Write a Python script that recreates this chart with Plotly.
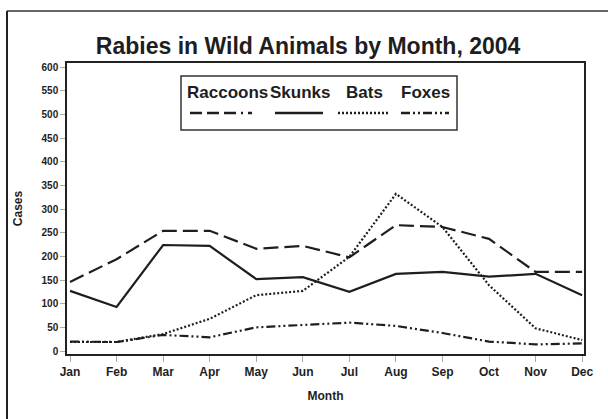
import plotly.graph_objects as go

months = ["Jan", "Feb", "Mar", "Apr", "May", "Jun", "Jul", "Aug", "Sep", "Oct", "Nov", "Dec"]
raccoons = [146, 194, 254, 254, 216, 222, 198, 266, 262, 237, 167, 167]
skunks = [127, 93, 224, 222, 152, 156, 125, 163, 167, 157, 163, 118]
bats = [19, 19, 36, 68, 118, 127, 199, 332, 262, 139, 48, 23]
foxes = [20, 19, 34, 29, 50, 55, 60, 53, 38, 20, 14, 16]
y_ticks = list(range(0, 601, 50))

W, H = 608, 419
L, R, T, B = 67, 24, 63, 65
PW, PH = W - L - R, H - T - B

def px(x):
    return (x - L) / PW

def py(y):
    return (H - B - y) / PH

FONT = "Liberation Sans, Arial, sans-serif"
INK = "#1e1e1e"

series = [
    ("Raccoons", raccoons, "15px,6px"),
    ("Skunks", skunks, "solid"),
    ("Bats", bats, "2px,2px"),
    ("Foxes", foxes, "9px,3px,2px,3px,2px,3px"),
]

fig = go.Figure()
for name, vals, dash in series:
    fig.add_trace(go.Scatter(
        x=months, y=vals, mode="lines", name=name,
        line=dict(color=INK, width=2.2, dash=dash),
        showlegend=False,
    ))

# custom legend (text above line sample), drawn in paper coordinates
legend_items = [
    ("Raccoons", 227, 190, 252, "12px,5px,12px,5px,12px,5px,2px,5px"),
    ("Skunks", 300, 275, 323, "solid"),
    ("Bats", 364, 338, 388, "2px,2px"),
    ("Foxes", 425, 401, 449, "9px,3px,2px,3px,2px,3px"),
]
shapes = []
annotations = []
for name, cx, x0, x1, dash in legend_items:
    annotations.append(dict(
        x=px(cx), y=py(93), xref="paper", yref="paper", text=name,
        showarrow=False, xanchor="center", yanchor="middle",
        font=dict(family=FONT, size=17, color=INK, weight="bold"),
    ))
    shapes.append(dict(
        type="line", xref="paper", yref="paper",
        x0=px(x0), x1=px(x1), y0=py(113), y1=py(113),
        line=dict(color=INK, width=2.5, dash=dash),
    ))
shapes.append(dict(
    type="rect", xref="paper", yref="paper",
    x0=px(181), x1=px(457), y0=py(130), y1=py(76),
    line=dict(color="#333", width=1.5), fillcolor="white", layer="below",
))
# outer frame of the picture
shapes.append(dict(type="line", xref="paper", yref="paper",
                   x0=px(7), x1=px(W + 5), y0=py(11), y1=py(11),
                   line=dict(color="#666", width=2)))
shapes.append(dict(type="line", xref="paper", yref="paper",
                   x0=px(7), x1=px(7), y0=py(11), y1=py(H + 5),
                   line=dict(color="#222", width=2)))

fig.update_layout(
    width=W, height=H,
    margin=dict(l=L, r=R, t=T, b=B),
    paper_bgcolor="white", plot_bgcolor="white",
    title=dict(text="Rabies in Wild Animals by Month, 2004",
               x=px(329), xanchor="center", y=1 - 46 / H, yanchor="middle",
               font=dict(family=FONT, size=23, color=INK, weight="bold")),
    shapes=shapes, annotations=annotations,
    showlegend=False,
)
fig.update_xaxes(
    range=[-0.065, 11.04], showgrid=False, zeroline=False,
    showline=True, linecolor="#222", linewidth=1.5, mirror=True,
    ticks="outside", ticklen=6, tickcolor="#aaa", tickwidth=1,
    tickfont=dict(family=FONT, size=12, color=INK, weight="bold"),
    title=dict(text="Month", standoff=13,
               font=dict(family=FONT, size=12, color=INK, weight="bold")),
)
fig.update_yaxes(
    range=[-6.3, 608.5], tickvals=y_ticks, showgrid=False, zeroline=False,
    showline=True, linecolor="#222", linewidth=1.5, mirror=True,
    ticks="outside", ticklen=5, tickcolor="#aaa", tickwidth=1,
    tickfont=dict(family=FONT, size=10, color=INK, weight="bold"),
    title=dict(text="Cases", standoff=16,
               font=dict(family=FONT, size=12, color=INK, weight="bold")),
)

fig.write_html("out.html", config={"displayModeBar": False},
               post_script="document.body.style.margin='0';document.body.style.overflow='hidden';")
